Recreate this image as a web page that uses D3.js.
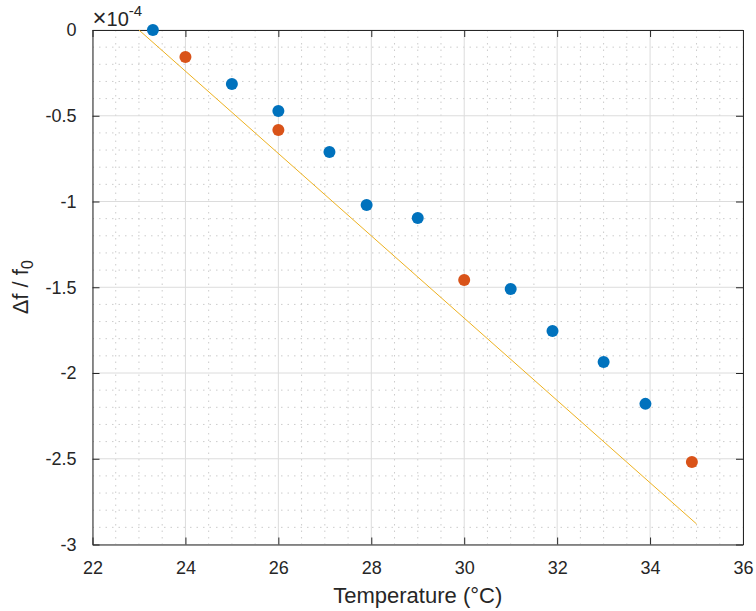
<!DOCTYPE html>
<html>
<head>
<meta charset="utf-8">
<script src="https://cdn.jsdelivr.net/npm/d3@7"></script>
<style>
  body { margin: 0; background: #fff; }
  text { font-family: "Liberation Sans", Arial, sans-serif; fill: #262626; }
</style>
</head>
<body>
<svg id="chart"></svg>
<script>
// measured series (temperature in °C, df/f0 in units of 1e-4)
const blueT = [23.3, 25, 26, 27.1, 27.9, 29, 31, 31.9, 33, 33.9];
const blueDf = [0, -0.315, -0.472, -0.711, -1.02, -1.096, -1.51, -1.755, -1.936, -2.18];
const orangeT = [24, 26, 30, 34.9];
const orangeDf = [-0.157, -0.583, -1.458, -2.519];
// fitted line end points
const fitT = [23, 35];
const fitDf = [0, -2.88];

const xTicks = [22, 24, 26, 28, 30, 32, 34, 36];
const yTicks = [0, -0.5, -1, -1.5, -2, -2.5, -3];

const width = 756;
const height = 611;
const margin = { left: 92.5, right: 13, top: 30, bottom: 66.5 };

const svg = d3.select("#chart")
  .attr("width", width)
  .attr("height", height);

const x = d3.scaleLinear().domain([22, 36]).range([margin.left, width - margin.right]);
const y = d3.scaleLinear().domain([-3, 0]).range([height - margin.bottom, margin.top]);

const x0 = x.range()[0], x1 = x.range()[1];
const yTop = y.range()[1], yBot = y.range()[0];

// minor grid (dotted)
const xMinor = d3.range(22, 36.001, 0.5).filter(v => Math.abs(v % 2) > 0.01);
const yMinor = d3.range(-3, 0.001, 0.1).filter(v => Math.abs((v * 10) % 5) > 0.01);
svg.append("g").selectAll("line").data(xMinor).join("line")
  .attr("x1", d => x(d)).attr("x2", d => x(d))
  .attr("y1", yTop).attr("y2", yBot)
  .attr("stroke", "#cccccc").attr("stroke-width", 1)
  .attr("stroke-dasharray", "1.5,5");
svg.append("g").selectAll("line").data(yMinor).join("line")
  .attr("x1", x0).attr("x2", x1)
  .attr("y1", d => y(d)).attr("y2", d => y(d))
  .attr("stroke", "#cccccc").attr("stroke-width", 1)
  .attr("stroke-dasharray", "1.5,5");

// major grid
svg.append("g").selectAll("line").data(xTicks).join("line")
  .attr("x1", d => x(d)).attr("x2", d => x(d))
  .attr("y1", yTop).attr("y2", yBot)
  .attr("stroke", "#dcdcdc").attr("stroke-width", 1);
svg.append("g").selectAll("line").data(yTicks).join("line")
  .attr("x1", x0).attr("x2", x1)
  .attr("y1", d => y(d)).attr("y2", d => y(d))
  .attr("stroke", "#dcdcdc").attr("stroke-width", 1);

// axes (ticks pointing inwards)
svg.append("g")
  .attr("transform", `translate(0,${yBot})`)
  .call(d3.axisBottom(x).tickValues(xTicks).tickSizeInner(-7).tickSizeOuter(0).tickPadding(17));
svg.append("g")
  .attr("transform", `translate(0,${yTop})`)
  .call(d3.axisTop(x).tickValues(xTicks).tickSizeInner(-7).tickSizeOuter(0).tickFormat(""));
svg.append("g")
  .attr("transform", `translate(${x0},0)`)
  .call(d3.axisLeft(y).tickValues(yTicks).tickSizeInner(-7).tickSizeOuter(0).tickPadding(16)
    .tickFormat(d => d === 0 ? "0" : String(d)));
svg.append("g")
  .attr("transform", `translate(${x1},0)`)
  .call(d3.axisRight(y).tickValues(yTicks).tickSizeInner(-7).tickSizeOuter(0).tickFormat(""));

svg.selectAll(".domain").attr("stroke", "#262626");
svg.selectAll(".tick line").attr("stroke", "#262626");
svg.selectAll(".tick text")
  .attr("font-size", 18)
  .attr("font-family", "Liberation Sans, Arial, sans-serif")
  .attr("fill", "#262626");

// fit line
svg.append("line")
  .attr("x1", x(fitT[0])).attr("y1", y(fitDf[0]))
  .attr("x2", x(fitT[1])).attr("y2", y(fitDf[1]))
  .attr("stroke", "#EDB120").attr("stroke-width", 1);

// points
svg.append("g").selectAll("circle").data(blueT).join("circle")
  .attr("cx", d => x(d))
  .attr("cy", (d, i) => y(blueDf[i]))
  .attr("r", 6)
  .attr("fill", "#0072BD");
svg.append("g").selectAll("circle").data(orangeT).join("circle")
  .attr("cx", d => x(d))
  .attr("cy", (d, i) => y(orangeDf[i]))
  .attr("r", 6)
  .attr("fill", "#D95319");

// exponent label
const expo = svg.append("text")
  .attr("x", x0).attr("y", 26)
  .attr("font-size", 20);
expo.append("tspan").attr("font-size", 24).text("\u00d7");
expo.append("tspan").text("10");
expo.append("tspan").attr("dy", -10).attr("font-size", 15).text("-4");

// axis labels
svg.append("text")
  .attr("x", (x0 + x1) / 2).attr("y", 603)
  .attr("text-anchor", "middle")
  .attr("font-size", 22)
  .text("Temperature (\u00b0C)");

const yl = svg.append("text")
  .attr("transform", `translate(28,${(yTop + yBot) / 2}) rotate(-90)`)
  .attr("text-anchor", "middle")
  .attr("font-size", 22);
yl.append("tspan").text("\u0394f / f");
yl.append("tspan").attr("dy", 5).attr("font-size", 16).text("0");
</script>
</body>
</html>
